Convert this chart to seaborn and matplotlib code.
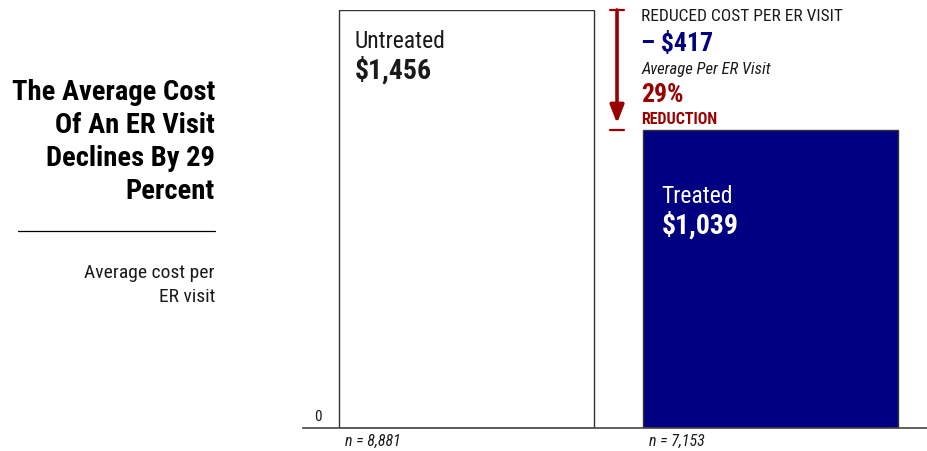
import matplotlib
matplotlib.use("Agg")
import matplotlib.pyplot as plt
import seaborn as sns
import pandas as pd

groups = ["Untreated", "Treated"]
avg_cost = [1456, 1039]
sample_sizes = ["n = 8,881", "n = 7,153"]
reduction_dollars = 417
reduction_pct = 29

NAVY = "#000080"
RED = "#9B0000"
INK = "#1a1a1a"

sns.set_theme(style="white")
plt.rcParams["font.family"] = ["Roboto Condensed", "Liberation Sans", "DejaVu Sans"]

df = pd.DataFrame({"group": groups, "cost": avg_cost})

fig = plt.figure(figsize=(9.28, 4.51), dpi=100)
ax = fig.add_axes([303 / 928, 23 / 451, 625 / 928, 418 / 451])

sns.barplot(data=df, x="group", y="cost", hue="group",
            palette={"Untreated": "white", "Treated": NAVY}, saturation=1,
            width=0.839, edgecolor="#333333", linewidth=1.0,
            legend=False, ax=ax)

ax.set_xlim(-0.538, 1.518)
ax.set_ylim(0, avg_cost[0])
ax.set_xticks([])
ax.set_yticks([])
ax.set_xlabel("")
ax.set_ylabel("")
for side in ["top", "right", "left"]:
    ax.spines[side].set_visible(False)
ax.spines["bottom"].set_color("#444444")
ax.spines["bottom"].set_linewidth(1.2)

# zero label and sample sizes
ax.text(-0.49, 40, "0", fontsize=11, color=INK, ha="center", va="center")
for i, n in enumerate(sample_sizes):
    ax.text(i - 0.40, -0.031, n, transform=ax.get_xaxis_transform(),
            fontsize=11.5, style="italic", color=INK, ha="left", va="center")

# labels inside bars
x0 = -0.368
ax.text(x0, avg_cost[0] - 108, groups[0], fontsize=17,
        color=INK, ha="left", va="center")
ax.text(x0, avg_cost[0] - 210, f"${avg_cost[0]:,}", fontsize=20, fontweight="bold",
        color=INK, ha="left", va="center")
ax.text(1 + x0 + 0.01, avg_cost[1] - 232, groups[1], fontsize=17,
        color="white", ha="left", va="center")
ax.text(1 + x0 + 0.01, avg_cost[1] - 334, f"${avg_cost[1]:,}", fontsize=20,
        fontweight="bold", color="white", ha="left", va="center")

# reduction arrow between the two bar heights
xa = 0.495
cap = 0.023
ax.plot([xa - cap, xa + cap], [avg_cost[0], avg_cost[0]], color=RED, lw=1.6, clip_on=False)
ax.plot([xa - cap, xa + cap], [avg_cost[1], avg_cost[1]], color=RED, lw=1.6, clip_on=False)
ax.annotate("", xy=(xa, avg_cost[1] + 22), xytext=(xa, avg_cost[0]),
            arrowprops=dict(arrowstyle="-|>,head_width=0.35,head_length=0.9",
                            color=RED, lw=2.6, shrinkA=0, shrinkB=0),
            annotation_clip=False)

xt = 0.574
ax.text(xt, 1432, "REDUCED COST PER ER VISIT", fontsize=12.5, color=INK,
        ha="left", va="center")
ax.text(xt, 1338, f"– ${reduction_dollars}", fontsize=18.5, fontweight="bold",
        color=NAVY, ha="left", va="center")
ax.text(xt, 1250, "Average Per ER Visit", fontsize=12, style="italic",
        color=INK, ha="left", va="center")
ax.text(xt, 1160, f"{reduction_pct}%", fontsize=18.5, fontweight="bold",
        color=RED, ha="left", va="center")
ax.text(xt, 1076, "REDUCTION", fontsize=11.5, fontweight="bold",
        color=RED, ha="left", va="center")

# headline block on the left
fig.text(215 / 928, 1 - 142 / 451,
         "The Average Cost\nOf An ER Visit\nDeclines By 29\nPercent",
         fontsize=20.5, fontweight="bold", color="black", ha="right", va="center",
         linespacing=1.28)
fig.add_artist(plt.Line2D([18 / 928, 215 / 928], [1 - 231 / 451, 1 - 231 / 451],
                          color="black", lw=0.9))
fig.text(215 / 928, 1 - 285 / 451, "Average cost per\nER visit", fontsize=14,
         color=INK, ha="right", va="center", linespacing=1.45)

fig.savefig("out.png", dpi=100)
